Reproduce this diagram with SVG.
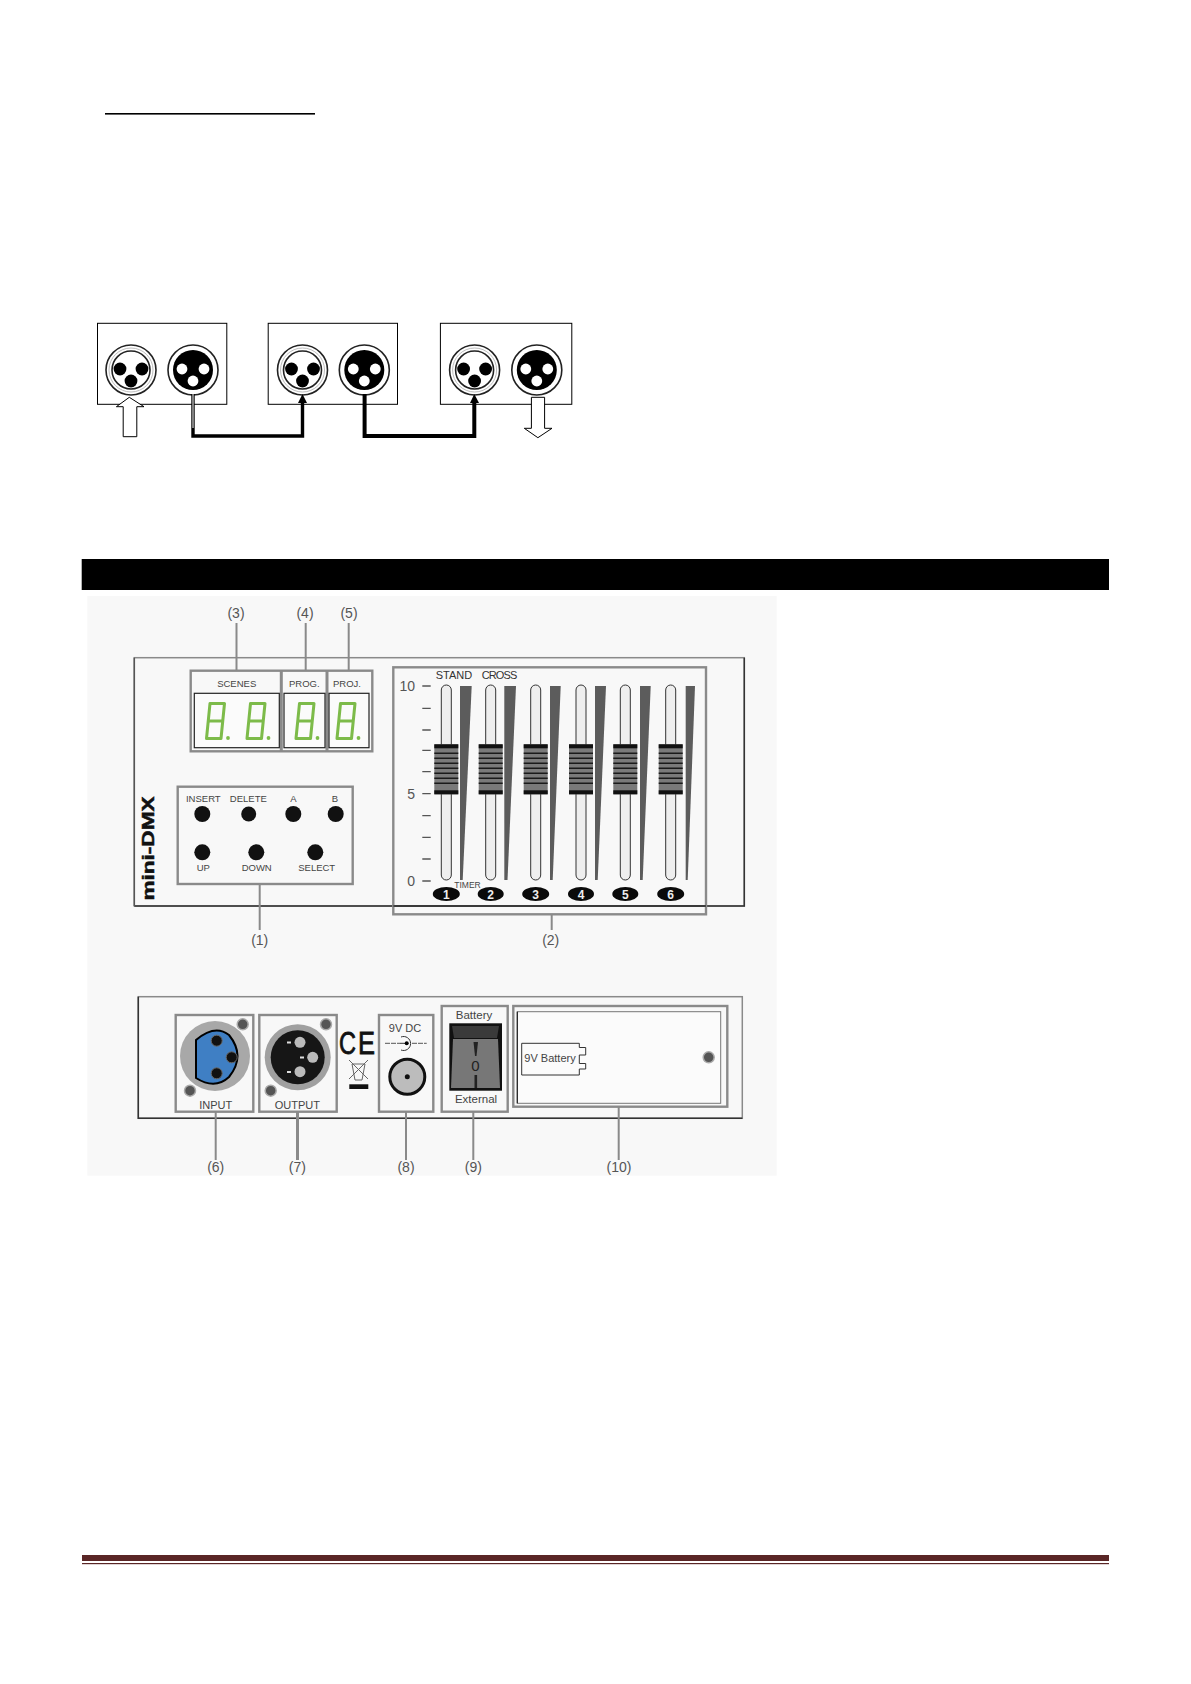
<svg xmlns="http://www.w3.org/2000/svg" xmlns:xlink="http://www.w3.org/1999/xlink" width="1191" height="1684" viewBox="0 0 1191 1684">
<style>
text{font-family:"Liberation Sans",Arial,sans-serif;fill:#444}
.c{text-anchor:middle}
.box{fill:#f8f8f8;stroke:#8a8a8a;stroke-width:2.4}
.win{fill:#fbfbfb;stroke:#222;stroke-width:1.2}
.lead{stroke:#8a8a8a;stroke-width:2;fill:none}
.call{font-size:14px;fill:#555}
.sm{font-size:9.5px}
.lab{font-size:11px}
.btn{fill:#111}
.tick{stroke:#555;stroke-width:1.3}
.wedge{fill:#5c5c5c}
.track{fill:#eee;stroke:#333;stroke-width:1}
.oval{fill:#0a0a0a}
.num{font-size:12px;font-weight:bold;fill:#eee;text-anchor:middle}
.plate{fill:#fff;stroke:#000;stroke-width:1}
.wire{fill:none;stroke:#000;stroke-width:3.4}
.arrow{fill:#fff;stroke:#000;stroke-width:1}
.screw{fill:#555;stroke:#aaa;stroke-width:1.5}
</style>
<defs>
<g id="xf"><circle r="25" fill="#fff" stroke="#222" stroke-width="1.6"/><circle r="19" fill="#fff" stroke="#222" stroke-width="1.6"/><circle r="22" fill="none" stroke="#bbb" stroke-width="1"/><circle cx="-11" cy="-1" r="6.4"/><circle cx="11" cy="-1" r="6.4"/><circle cy="11" r="6.4"/></g>
<g id="xm"><circle r="25" fill="#fff" stroke="#222" stroke-width="1.6"/><circle r="20"/><circle cx="-11" cy="-1" r="5.4" fill="#fff"/><circle cx="11" cy="-1" r="5.4" fill="#fff"/><circle cy="11" r="5.4" fill="#fff"/></g>
<g id="digit" fill="none" stroke="#7dbb4a" stroke-width="3" stroke-linejoin="round"><path d="M5.5 1.5H20L16.5 36.5H2Z"/><path d="M4 19H18"/><circle cx="23.5" cy="36" r="1.9" fill="#7dbb4a" stroke="none"/></g>
<g id="knob"><rect x="-12" width="24" height="50" fill="#7a7a7a"/><rect x="-12" width="24" height="4" fill="#111"/><rect x="-12" y="46" width="24" height="4" fill="#111"/><path d="M-12 9H12M-12 14H12M-12 19H12M-12 24H12M-12 29H12M-12 34H12M-12 39H12" stroke="#1a1a1a" stroke-width="1.4"/></g>
<rect id="track" x="-5" y="685" width="10" height="195" rx="5" class="track"/>
</defs>
<rect width="1191" height="1684" fill="#fff"/>
<rect id="title-rule" x="105" y="113" width="210" height="1.6" fill="#000"/>

<g id="wiring-diagram">
<g id="unit-1"><rect class="plate" x="97.5" y="323.3" width="129.3" height="81"/><use xlink:href="#xf" x="131" y="370"/><use xlink:href="#xm" x="193" y="370"/></g>
<g id="unit-2"><rect class="plate" x="268.2" y="323.3" width="129.3" height="81"/><use xlink:href="#xf" x="302.5" y="370"/><use xlink:href="#xm" x="364.3" y="370"/></g>
<g id="unit-3"><rect class="plate" x="440.4" y="323.3" width="131.4" height="81"/><use xlink:href="#xf" x="474.6" y="370"/><use xlink:href="#xm" x="536.8" y="370"/></g>
<g id="connectors">
<path class="arrow" d="M129.3 397.3L144 406.7H136.8V436.7H123.2V406.7H116.4Z"/>
<path class="arrow" d="M531.4 397.3H544.6V428.3H552L537.9 437.7L524.3 428.3H531.4Z"/>
<path class="wire" d="M193 394V436H302.5V402"/>
<path d="M193 394V428" stroke="#fff" stroke-width="1" fill="none"/>
<path d="M302.5 394L307 403H298Z"/>
<path class="wire" d="M364.6 394V436H474.3V402" style="stroke-width:4"/>
<path d="M474.3 394L479 403H470Z"/>
</g>
</g>

<rect id="section-bar" x="81.7" y="559" width="1027.3" height="31" fill="#000"/>
<rect id="panel-bg" x="87.3" y="596" width="689.4" height="579.7" fill="#f8f8f8"/>

<g id="front-panel">
<rect x="134.3" y="657.7" width="610" height="248.3" fill="#f8f8f8" stroke="#8a8a8a" stroke-width="1.5"/>
<path d="M134.3 906H744.3V657.7" fill="none" stroke="#333" stroke-width="1.5"/>
<path d="M134.3 657.7V906" fill="none" stroke="#555" stroke-width="1.5"/>
<text font-size="17" font-weight="bold" style="fill:#111;stroke:#111;stroke-width:.5" text-anchor="middle" textLength="104" lengthAdjust="spacingAndGlyphs" transform="translate(154,848.5) rotate(-90)">mini-DMX</text>
</g>

<g id="display-group">
<rect class="box" x="190.7" y="670.7" width="181.6" height="80.6"/>
<path class="box" d="M281.3 670.7V751.3M327 670.7V751.3" style="stroke-width:3"/>
<rect class="win" x="194.3" y="693.3" width="85" height="54.4"/>
<rect class="win" x="284" y="693.3" width="41" height="54.4"/>
<rect class="win" x="329" y="693.3" width="40" height="54.4"/>
<text class="sm c" x="236.7" y="687">SCENES</text>
<text class="sm c" x="304.3" y="687">PROG.</text>
<text class="sm c" x="347" y="687">PROJ.</text>
<use xlink:href="#digit" x="204.5" y="702"/>
<use xlink:href="#digit" x="245" y="702"/>
<use xlink:href="#digit" x="294" y="702"/>
<use xlink:href="#digit" x="335" y="702"/>
</g>

<g id="button-group">
<rect class="box" x="177.7" y="786.7" width="175" height="97.3"/>
<circle class="btn" cx="202.3" cy="814" r="8"/><circle class="btn" cx="248.7" cy="814" r="7.5"/><circle class="btn" cx="293.3" cy="814" r="8"/><circle class="btn" cx="335.7" cy="814" r="8"/>
<circle class="btn" cx="202.3" cy="852.3" r="8"/><circle class="btn" cx="256.3" cy="852.3" r="8"/><circle class="btn" cx="315.3" cy="852.3" r="8"/>
<text class="sm c" x="203.3" y="801.5">INSERT</text><text class="sm c" x="248.3" y="801.5">DELETE</text><text class="sm c" x="293.3" y="801.5">A</text><text class="sm c" x="335" y="801.5">B</text>
<text class="sm c" x="203.3" y="871">UP</text><text class="sm c" x="256.7" y="871">DOWN</text><text class="sm c" x="316.7" y="871">SELECT</text>
</g>

<g id="fader-group">
<rect class="box" x="393.3" y="667.3" width="312.7" height="247" fill-opacity="0"/>
<path d="M393.3 906H706" stroke="#333" stroke-width="1.5"/>
<text class="lab" x="435.7" y="679" style="fill:#333" textLength="36.6">STAND</text>
<text class="lab" x="481.7" y="679" style="fill:#333" textLength="35.6">CROSS</text>
<text font-size="14" x="415" y="691" text-anchor="end" style="fill:#555">10</text>
<text font-size="14" x="415" y="799" text-anchor="end" style="fill:#555">5</text>
<text font-size="14" x="415" y="886" text-anchor="end" style="fill:#555">0</text>
<path class="tick" d="M422.3 686H430.7M422.3 708.3H430.7M422.3 730H430.7M422.3 750.3H430.7M422.3 771.7H430.7M422.3 793.7H430.7M422.3 815.7H430.7M422.3 837.3H430.7M422.3 859H430.7M422.3 881H430.7"/>
<polygon class="wedge" points="460,686 471.7,686 462.7,880 460,880"/>
<polygon class="wedge" points="504.3,686 516,686 507.5,880 504.3,880"/>
<polygon class="wedge" points="550,686 560.7,686 552.7,880 550,880"/>
<polygon class="wedge" points="595,686 606,686 597.7,880 595,880"/>
<polygon class="wedge" points="640,686 650.7,686 642.7,880 640,880"/>
<polygon class="wedge" points="685.7,686 695,686 687.7,880 685.7,880"/>
<use xlink:href="#track" x="446.3"/><use xlink:href="#track" x="490.7"/><use xlink:href="#track" x="535.7"/><use xlink:href="#track" x="581"/><use xlink:href="#track" x="625.3"/><use xlink:href="#track" x="670.7"/>
<use xlink:href="#knob" x="446.3" y="744.3"/><use xlink:href="#knob" x="490.7" y="744.3"/><use xlink:href="#knob" x="535.7" y="744.3"/><use xlink:href="#knob" x="581" y="744.3"/><use xlink:href="#knob" x="625.3" y="744.3"/><use xlink:href="#knob" x="670.7" y="744.3"/>
<text x="454.3" y="888.3" font-size="8.5">TIMER</text>
<ellipse class="oval" cx="446.3" cy="894" rx="13.5" ry="7"/><ellipse class="oval" cx="490.7" cy="894" rx="13" ry="7"/><ellipse class="oval" cx="535.7" cy="894" rx="13.5" ry="7"/><ellipse class="oval" cx="581" cy="894" rx="13" ry="7"/><ellipse class="oval" cx="625.3" cy="894" rx="13" ry="7"/><ellipse class="oval" cx="670.7" cy="894" rx="13.5" ry="7"/>
<text class="num" x="446.3" y="898.5">1</text><text class="num" x="490.7" y="898.5">2</text><text class="num" x="535.7" y="898.5">3</text><text class="num" x="581" y="898.5">4</text><text class="num" x="625.3" y="898.5">5</text><text class="num" x="670.7" y="898.5">6</text>
</g>

<g id="rear-panel">
<rect x="138.3" y="996.7" width="604" height="121.6" fill="#f8f8f8" stroke="#8a8a8a" stroke-width="1.5"/>
<path d="M138.3 996.7V1118.3H742.3" fill="none" stroke="#333" stroke-width="1.5"/>
</g>

<g id="input-socket">
<rect class="box" x="175.7" y="1015" width="77.6" height="96.7"/>
<circle cx="215" cy="1056" r="35" fill="#a8a8a8"/>
<path d="M196 1040Q215 1024 229 1035Q246 1056 229 1077Q215 1090 196 1078Z" fill="#3f7fc4" stroke="#000" stroke-width="2"/>
<circle cx="216.7" cy="1040.7" r="5.5" fill="#111" stroke="#666"/><circle cx="231.7" cy="1057.3" r="5.5" fill="#111" stroke="#666"/><circle cx="216.7" cy="1073.3" r="5.5" fill="#111" stroke="#666"/>
<circle class="screw" cx="242.7" cy="1024.3" r="5.5"/><circle class="screw" cx="190" cy="1090.7" r="5.5"/>
<text class="lab c" x="215.7" y="1109">INPUT</text>
</g>

<g id="output-socket">
<rect class="box" x="259.3" y="1015" width="77.4" height="96.7"/>
<circle cx="297.7" cy="1057.3" r="33" fill="#a0a0a0"/>
<circle cx="297.7" cy="1057.3" r="27" fill="#161616"/>
<circle cx="300" cy="1042.3" r="5.5" fill="#bbb"/><circle cx="312.7" cy="1057.3" r="5.5" fill="#bbb"/><circle cx="300" cy="1071.7" r="5.5" fill="#bbb"/>
<path d="M287 1042.5H291M300 1057.5H304M287 1072H291" stroke="#ddd" stroke-width="2"/>
<circle class="screw" cx="326" cy="1024.3" r="5.5"/><circle class="screw" cx="270.7" cy="1090.7" r="5.5"/>
<text class="lab c" x="297.3" y="1109">OUTPUT</text>
</g>

<g id="marks">
<text x="339" y="1054" font-size="31" textLength="17" lengthAdjust="spacingAndGlyphs" style="fill:#111;stroke:#111;stroke-width:.8">C</text>
<text x="358" y="1054" font-size="31" textLength="17" lengthAdjust="spacingAndGlyphs" style="fill:#111;stroke:#111;stroke-width:.8">E</text>
<path d="M349 1060L368 1079M368 1060L349 1079M352 1064H365L362 1080H355Z" fill="none" stroke="#666" stroke-width="1"/>
<rect x="349.3" y="1084.3" width="19" height="4.7" fill="#111"/>
</g>

<g id="dc-socket">
<rect class="box" x="379" y="1015" width="54.3" height="96.7"/>
<text class="lab c" x="405" y="1032">9V DC</text>
<path d="M385 1043.3H400M412 1043.3H426.7" stroke="#555" stroke-width="1" stroke-dasharray="5 1"/>
<path d="M401 1037A7 7 0 1 1 401 1050M400 1043.3H407" fill="none" stroke="#333" stroke-width="1"/>
<circle cx="406.7" cy="1043.3" r="2" fill="#000"/>
<circle cx="407.3" cy="1076.7" r="17.5" fill="#bcbcbc" stroke="#111" stroke-width="3"/>
<circle cx="407.3" cy="1076.7" r="2.5" fill="#111"/>
</g>

<g id="power-switch">
<rect class="box" x="441.7" y="1006" width="66" height="105.7"/>
<text class="c" x="474" y="1019" font-size="11.5">Battery</text>
<rect x="449.3" y="1023.3" width="52.7" height="67.4" fill="#111"/>
<path d="M452 1026H499L497 1038H454Z" fill="#3a3a3a"/>
<path d="M453 1039H498L500 1088H451Z" fill="#777"/>
<path d="M473.5 1042H478L476.5 1056H475Z" fill="#222"/>
<text x="475.5" y="1070.5" font-size="15" class="c" style="fill:#222">0</text>
<rect x="474.5" y="1075" width="2.6" height="13" fill="#222"/>
<text class="c" x="476" y="1103" font-size="11.5">External</text>
</g>

<g id="battery-bay">
<rect class="box" x="513.3" y="1006" width="214" height="100.7"/>
<rect x="517.3" y="1011.7" width="203.4" height="91.6" fill="#fbfbfb" stroke="#777" stroke-width="1"/>
<path d="M517.3 1011.7V1103.3" stroke="#222" stroke-width="1.2"/>
<path d="M579.3 1043.3H521.7V1075H579.3V1069H585.7V1063.5H579.3V1055H585.7V1047.5H579.3Z" fill="#fbfbfb" stroke="#333" stroke-width="1"/>
<text class="c" x="550" y="1061.5" font-size="11">9V Battery</text>
<circle class="screw" cx="708.7" cy="1057.3" r="5.5"/>
</g>

<g id="callouts">
<path class="lead" d="M236.5 623V670M305.7 623V670M348.7 623V670M259.7 884V930M551.7 915V930M215.7 1111.7V1160M406 1111.7V1160M473.3 1111.7V1160M618.7 1106.7V1160"/>
<path class="lead" style="stroke-width:3" d="M297.5 1111.7V1160"/>
<text class="call c" x="236" y="618">(3)</text><text class="call c" x="305" y="618">(4)</text><text class="call c" x="349" y="618">(5)</text>
<text class="call c" x="259.7" y="945">(1)</text><text class="call c" x="550.7" y="945">(2)</text>
<text class="call c" x="215.7" y="1172">(6)</text><text class="call c" x="297.3" y="1172">(7)</text><text class="call c" x="406" y="1172">(8)</text><text class="call c" x="473.3" y="1172">(9)</text><text class="call c" x="619" y="1172">(10)</text>
</g>

<g id="footer-rule"><rect x="82" y="1555" width="1027" height="6" fill="#5a2626"/><rect x="82" y="1563" width="1027" height="1.2" fill="#5a2626"/></g>
</svg>
